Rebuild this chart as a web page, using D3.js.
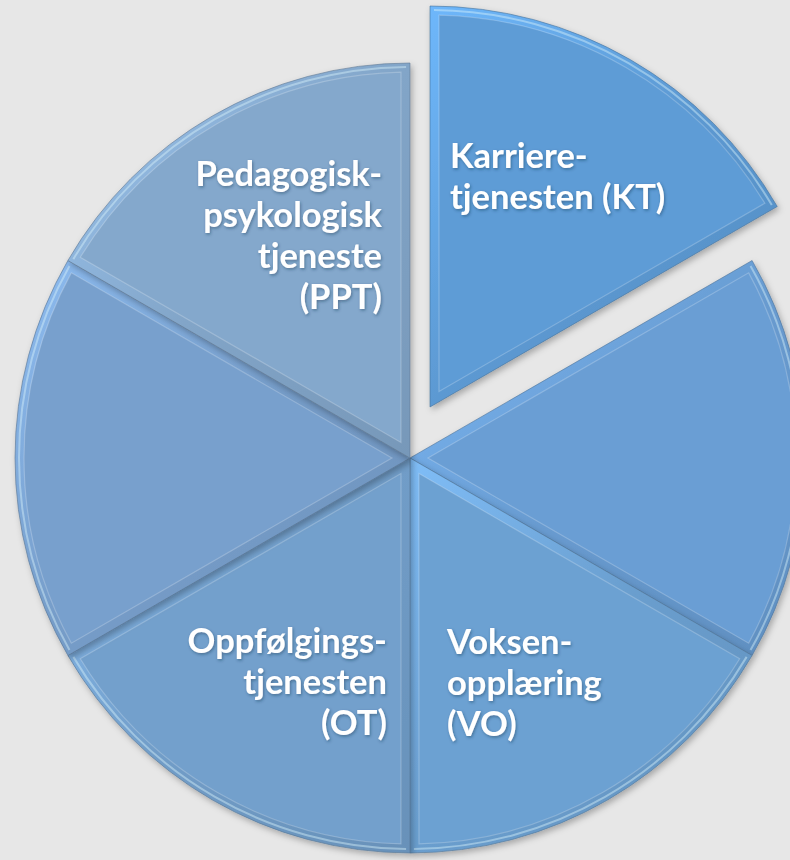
<!DOCTYPE html>
<html lang="no">

<head>
    <meta charset="UTF-8" />
    <title>Tjenester</title>
    <script src="https://d3js.org/d3.v7.min.js"></script>
    <style>
        body { margin: 0; background: #e7e7e7; }
        svg { display: block; }
    </style>
</head>

<body>
    <div id="chart"></div>

    <script>
        var w = 790;
        var h = 860;

        // six equal segments, clockwise from 12 o'clock
        var categories = ["KT", "", "VO", "OT", "", "PPT"];
        var values = [1, 1, 1, 1, 1, 1];
        var labelLines = [
            ["Karriere-", "tjenesten (KT)"],
            [],
            ["Voksen-", "opplæring", "(VO)"],
            ["Oppfølgings-", "tjenesten", "(OT)"],
            [],
            ["Pedagogisk-", "psykologisk", "tjeneste", "(PPT)"]
        ];
        var exploded = ["KT"];

        // styling / layout
        var cx = 410, cy = 458, radius = 395;
        var explodeShift = [20, -51], explodeGrow = 6;
        var bevel = 9;
        var lineHeight = 41;
        var sliceColors = ["#5e9cd6", "#6a9ed4", "#6ca1d2", "#73a0cc", "#78a0cd", "#84a8cc"];
        // label anchor relative to the (shifted) centre, and alignment
        var labelPos = [
            { dx: 20, dy: -239, anchor: "start" },
            null,
            { dx: 37, dy: 196, anchor: "start" },
            { dx: -23, dy: 195, anchor: "end" },
            null,
            { dx: -28, dy: -272, anchor: "end" }
        ];

        var svg = d3.select("#chart")
            .append("svg")
            .attr("width", w)
            .attr("height", h);

        var defs = svg.append("defs");

        var shadow = defs.append("filter").attr("id", "shadow")
            .attr("x", "-10%").attr("y", "-10%").attr("width", "120%").attr("height", "120%");
        shadow.append("feDropShadow")
            .attr("dx", 2).attr("dy", 3).attr("stdDeviation", 3)
            .attr("flood-color", "#000").attr("flood-opacity", 0.28);

        var textShadow = defs.append("filter").attr("id", "textShadow")
            .attr("x", "-10%").attr("y", "-20%").attr("width", "120%").attr("height", "140%");
        textShadow.append("feDropShadow")
            .attr("dx", 1).attr("dy", 1.5).attr("stdDeviation", 1.5)
            .attr("flood-color", "#1d3550").attr("flood-opacity", 0.45);

        var color = d3.scaleOrdinal()
            .domain(d3.range(categories.length))
            .range(sliceColors);

        var data = categories.map(function (c, i) {
            return { name: c, value: values[i], lines: labelLines[i], idx: i };
        });

        var pie = d3.pie()
            .sort(null)
            .value(function (d) { return d.value; });

        var arcs = pie(data);

        // bevel gradients, light from the upper left
        arcs.forEach(function (a, i) {
            var c = d3.color(color(i));
            var g = defs.append("linearGradient")
                .attr("id", "bev" + i)
                .attr("x1", 0).attr("y1", 0).attr("x2", 1).attr("y2", 1);
            g.append("stop").attr("offset", 0).attr("stop-color", c.brighter(0.45));
            g.append("stop").attr("offset", 0.5).attr("stop-color", c.darker(0.05));
            g.append("stop").attr("offset", 1).attr("stop-color", c.darker(0.28));
        });

        function outerArc(r) {
            return d3.arc().innerRadius(0).outerRadius(r);
        }

        function faceArc(r) {
            return d3.arc()
                .innerRadius(bevel * 2)
                .outerRadius(r - bevel)
                .padRadius(r)
                .padAngle(2 * Math.asin(bevel / r));
        }

        var slices = svg.selectAll("g.slice")
            .data(arcs)
            .enter()
            .append("g")
            .attr("class", "slice")
            .attr("transform", function (d) {
                var off = exploded.indexOf(d.data.name) >= 0 ? explodeShift : [0, 0];
                return "translate(" + (cx + off[0]) + "," + (cy + off[1]) + ")";
            });

        // draw exploded slice last so it sits on top
        slices.sort(function (a, b) {
            return (exploded.indexOf(a.data.name) >= 0) - (exploded.indexOf(b.data.name) >= 0);
        });

        slices.each(function (d, i) {
            var g = d3.select(this);
            var r = exploded.indexOf(d.data.name) >= 0 ? radius + explodeGrow : radius;
            var k = d.data.idx;

            g.append("path")
                .attr("d", outerArc(r)(d))
                .attr("fill", "url(#bev" + k + ")")
                .attr("stroke", d3.color(color(k)).darker(0.9))
                .attr("stroke-opacity", 0.6)
                .attr("stroke-width", 1)
                .attr("filter", "url(#shadow)");

            // light glint along the outer rim
            g.append("path")
                .attr("d", d3.arc()
                    .innerRadius(r - 5).outerRadius(r - 3)
                    .startAngle(d.startAngle + 0.01).endAngle(d.endAngle - 0.01)())
                .attr("fill", "#d6f1fb")
                .attr("opacity", 0.45);

            g.append("path")
                .attr("d", faceArc(r)(d))
                .attr("fill", color(k))
                .attr("stroke", "#ffffff")
                .attr("stroke-opacity", 0.22)
                .attr("stroke-width", 1.2);
        });

        // labels
        slices.filter(function (d) { return d.data.lines.length > 0; })
            .append("text")
            .attr("x", function (d) { return labelPos[d.data.idx].dx; })
            .attr("y", function (d) { return labelPos[d.data.idx].dy; })
            .attr("text-anchor", function (d) { return labelPos[d.data.idx].anchor; })
            .attr("fill", "#ffffff")
            .attr("font-family", "Lato, 'Open Sans', sans-serif")
            .attr("font-weight", 700)
            .attr("font-size", "34.5px")
            .attr("filter", "url(#textShadow)")
            .each(function (d) {
                var t = d3.select(this);
                var p = labelPos[d.data.idx];
                d.data.lines.forEach(function (line, j) {
                    t.append("tspan")
                        .attr("x", p.dx)
                        .attr("y", p.dy + j * lineHeight)
                        .text(line);
                });
            });
    </script>
</body>

</html>
